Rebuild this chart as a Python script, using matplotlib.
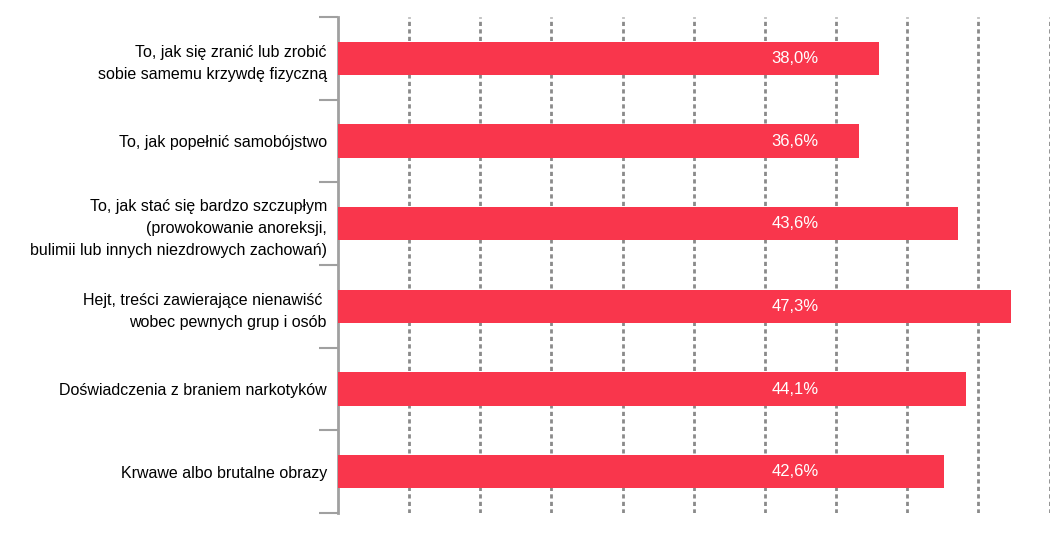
import numpy as np
import matplotlib.pyplot as plt

labels = ['To, jak się zranić lub zrobić\nsobie samemu krzywdę fizyczną',
          'To, jak popełnić samobójstwo',
          'To, jak stać się bardzo szczupłym\n(prowokowanie anoreksji,\nbulimii lub innych niezdrowych zachowań)',
          'Hejt, treści zawierające nienawiść \nwobec pewnych grup i osób',
          'Doświadczenia z braniem narkotyków',
          'Krwawe albo brutalne obrazy']
values = [38.0, 36.6, 43.6, 47.3, 44.1, 42.6]
value_text = ['38,0%', '36,6%', '43,6%', '47,3%', '44,1%', '42,6%']

plt.rcParams['font.family'] = ['Liberation Sans', 'DejaVu Sans']

fig = plt.figure(figsize=(10.51, 5.45), dpi=100)
ax = fig.add_axes([338/1051, 1-513/545, (1049.5-338)/1051, (513-17)/545])

y = np.arange(len(labels))
ax.barh(y, values, height=0.4, color='#F9364C', zorder=3)
for yi, t in zip(y, value_text):
    ax.text(32.1, yi, t, color='white', ha='center', va='center', fontsize=12, zorder=4)

ax.set_xlim(0, 50)
ax.set_ylim(len(labels)-0.5, -0.5)
ax.set_xticks(np.arange(5, 51, 5))
ax.xaxis.grid(True, linestyle=(0, (1.5, 1.2)), color='#8a8a8a', linewidth=2)
ax.tick_params(axis='x', length=0, labelbottom=False)

ax.set_yticks(y)
ax.set_yticklabels(labels, fontsize=11.5, linespacing=1.6)
ax.set_yticks(np.arange(-0.5, len(labels)), minor=True)
ax.tick_params(axis='y', which='major', length=0, pad=8)
ax.tick_params(axis='y', which='minor', length=14, width=1.5, color='#a0a0a0')

for s in ['top', 'right', 'bottom']:
    ax.spines[s].set_visible(False)
ax.spines['left'].set_color('#a0a0a0')
ax.spines['left'].set_linewidth(2)
ax.set_axisbelow(True)

fig.savefig('out.png', dpi=100)
